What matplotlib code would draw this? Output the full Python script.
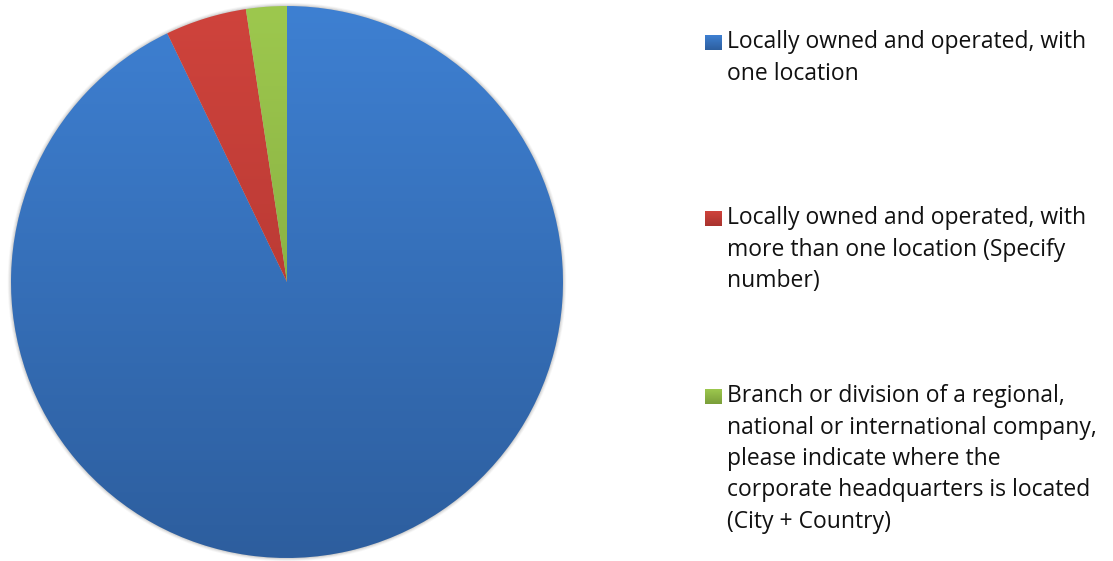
import numpy as np
import matplotlib
matplotlib.use("Agg")
import matplotlib.pyplot as plt
from matplotlib.colors import LinearSegmentedColormap

labels = [
    "Locally owned and operated, with\none location",
    "Locally owned and operated, with\nmore than one location (Specify\nnumber)",
    "Branch or division of a regional,\nnational or international company,\nplease indicate where the\ncorporate headquarters is located\n(City + Country)",
]
counts = [39, 2, 1]
# (top colour, bottom colour) of each slice's vertical gradient
shades = [("#3e80d2", "#2d5e9e"), ("#cf433c", "#a8332e"), ("#9dc84e", "#7a9e3a")]

W, H = 1113, 561
fig = plt.figure(figsize=(W / 100, H / 100), dpi=100)
fig.patch.set_facecolor("white")

cx, cy, r = 287, 282, 276
ax = fig.add_axes([(cx - r) / W, (H - cy - r) / H, 2 * r / W, 2 * r / H])
ax.axis("off")

wedges, _ = ax.pie(counts, startangle=90, counterclock=False, radius=1.0,
                   wedgeprops=dict(linewidth=0))

# soft shadow ring under the pie
for k, a in zip(np.linspace(1.012, 1.0, 5), [0.03, 0.04, 0.05, 0.06, 0.08]):
    ax.add_patch(plt.Circle((0, 0.0), k, color="black", alpha=a, lw=0,
                            zorder=0, clip_on=False))

grad = np.linspace(0, 1, 256).reshape(-1, 1)
for w, (top, bot) in zip(wedges, shades):
    w.set_facecolor("none")
    cmap = LinearSegmentedColormap.from_list("g", [top, bot])
    im = ax.imshow(grad, cmap=cmap, extent=(-1, 1, -1, 1), origin="upper",
                   aspect="auto", zorder=1)
    im.set_clip_path(w)
ax.set_xlim(-1.0, 1.0)
ax.set_ylim(-1.0, 1.0)
ax.set_aspect("equal")

# legend drawn by hand: gradient squares and wrapped labels
fam = ["Open Sans", "DejaVu Sans"]
line_h = 31.5
starts = [42, 218, 396]
for lab, (top, bot), y0 in zip(labels, shades, starts):
    sq = fig.add_axes([705 / W, 1 - (y0 + 8) / H, 16 / W, 15 / H])
    sq.axis("off")
    cmap = LinearSegmentedColormap.from_list("g", [top, bot])
    sq.imshow(grad, cmap=cmap, extent=(0, 1, 0, 1), aspect="auto")
    for i, line in enumerate(lab.split("\n")):
        fig.text(727 / W, 1 - (y0 + i * line_h) / H, line, fontsize=16.5,
                 family=fam, va="center", ha="left", color="#111111")

fig.savefig("out.png", dpi=100)
